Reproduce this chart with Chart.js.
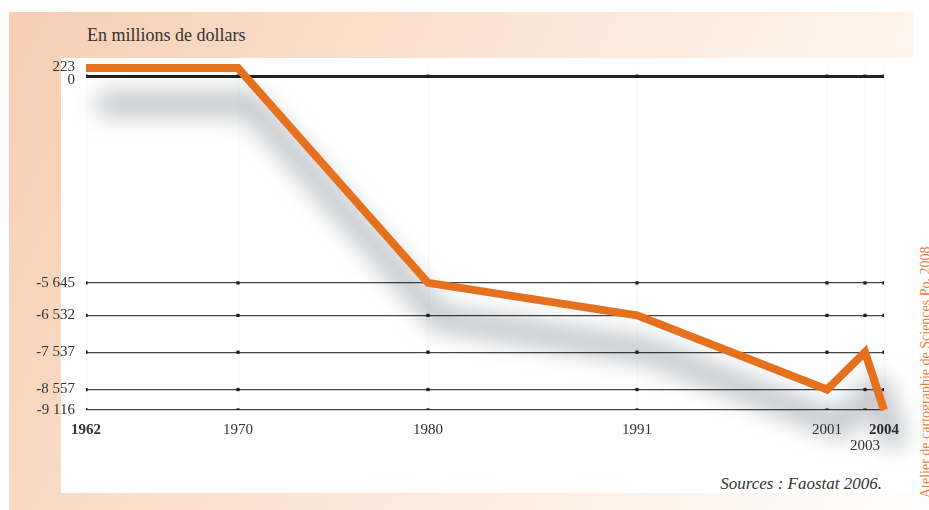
<!DOCTYPE html>
<html lang="fr">
<head>
  <meta charset="UTF-8" />
  <title>En millions de dollars</title>
  <script src="https://cdn.jsdelivr.net/npm/chart.js"></script>
  <style>
    body {
      margin: 0;
      width: 929px;
      height: 510px;
      position: relative;
      overflow: hidden;
      background: #fff;
      font-family: 'Liberation Serif', 'DejaVu Serif', serif;
      color: #333;
    }
    .frame {
      position: absolute;
      left: 9px;
      top: 12px;
      width: 904px;
      height: 498px;
      background: linear-gradient(115deg, #f6ceb1 0%, #fbe3d2 40%, #fdf2e9 75%, #fffdfb 100%);
    }
    .plot-bg {
      position: absolute;
      left: 61px;
      top: 58px;
      right: 0;
      height: 435px;
      background: #fff;
    }
    .title {
      position: absolute;
      left: 87px;
      top: 25px;
      font-size: 18px;
      white-space: nowrap;
    }
    .source {
      position: absolute;
      right: 47px;
      top: 474px;
      font-size: 17px;
      font-style: italic;
      white-space: nowrap;
    }
    .credit {
      position: absolute;
      left: 918px;
      top: 498px;
      font-size: 14px;
      color: #e8813f;
      white-space: nowrap;
      transform: rotate(-90deg);
      transform-origin: 0 0;
    }
    #chart {
      position: absolute;
      left: 0;
      top: 0;
    }
  </style>
</head>
<body>
  <div class="frame"></div>
  <div class="plot-bg"></div>
  <div class="title">En millions de dollars</div>
  <div class="source">Sources : Faostat 2006.</div>
  <div class="credit">Atelier de cartographie de Sciences Po, 2008</div>
  <canvas id="chart" width="929" height="510"></canvas>

  <script>
    // balance per year, millions of dollars
    const years = [1962, 1970, 1980, 1991, 2001, 2003, 2004];
    const balance = [223, 223, -5645, -6532, -8557, -7537, -9116];

    const yTicks = [223, 0, -5645, -6532, -7537, -8557, -9116];
    const boldYears = [1962, 2004];
    const lowYears = [2003];

    const serif = "'Liberation Serif', 'DejaVu Serif', serif";

    function frNumber(v) {
      const s = String(Math.abs(v)).replace(/\B(?=(\d{3})+(?!\d))/g, ' ');
      return (v < 0 ? '-' : '') + s;
    }

    const linePoints = years.map((y, i) => ({ x: y, y: balance[i] }));

    // little square marks where each year crosses a grid line
    const gridMarks = [];
    yTicks.filter(v => v !== 223).forEach(v => {
      years.forEach(y => gridMarks.push({ x: y, y: v }));
    });

    // blurred grey copy of the line, offset down-right
    const softShadow = {
      id: 'softShadow',
      beforeDatasetDraw(chart, args) {
        if (!chart.data.datasets[args.index].isShadow) return;
        const ctx = chart.ctx;
        ctx.save();
        ctx.filter = 'blur(11px)';
        ctx.globalCompositeOperation = 'multiply';
        ctx.translate(12, 36);
      },
      afterDatasetDraw(chart, args) {
        if (chart.data.datasets[args.index].isShadow) chart.ctx.restore();
      }
    };

    new Chart(document.getElementById('chart'), {
      type: 'line',
      data: {
        datasets: [
          {
            data: linePoints,
            borderColor: '#e5711f',
            borderWidth: 8,
            borderJoinStyle: 'miter',
            pointRadius: 0,
            tension: 0,
            clip: false,
            order: 0
          },
          {
            data: gridMarks,
            showLine: false,
            pointStyle: 'rect',
            pointRadius: 2.3,
            pointBackgroundColor: '#1e1e1e',
            pointBorderWidth: 0,
            order: 1
          },
          {
            isShadow: true,
            data: linePoints,
            borderColor: '#c4c7cb',
            borderWidth: 26,
            borderJoinStyle: 'round',
            pointRadius: 0,
            tension: 0,
            clip: false,
            order: 2
          }
        ]
      },
      options: {
        responsive: false,
        animation: false,
        layout: { padding: { left: 0, right: 45, top: 68, bottom: 60 } },
        plugins: {
          legend: { display: false },
          tooltip: { enabled: false }
        },
        scales: {
          x: {
            type: 'linear',
            min: 1962,
            max: 2004,
            afterBuildTicks: s => { s.ticks = years.map(v => ({ value: v })); },
            afterFit: s => { s.height = 40; },
            border: { display: false },
            grid: { drawTicks: false, color: 'rgba(0,0,0,0.03)', lineWidth: 1 },
            ticks: {
              autoSkip: false,
              maxRotation: 0,
              padding: 12,
              color: '#333',
              font: c => ({
                family: serif,
                size: 15,
                lineHeight: 16 / 15,
                weight: c.tick && boldYears.includes(c.tick.value) ? 'bold' : 'normal'
              }),
              callback: v => lowYears.includes(v) ? ['', String(v)] : String(v)
            }
          },
          y: {
            min: -9116,
            max: 223,
            afterBuildTicks: s => { s.ticks = yTicks.map(v => ({ value: v })); },
            afterFit: s => { s.width = 86; },
            border: { display: false },
            grid: {
              drawTicks: false,
              color: c => {
                if (!c.tick) return '#444';
                if (c.tick.value === 223) return 'rgba(0,0,0,0)';
                return c.tick.value === 0 ? '#222' : '#444';
              },
              lineWidth: c => (c.tick && c.tick.value === 0 ? 3 : 1.3)
            },
            ticks: {
              autoSkip: false,
              padding: 11,
              color: '#333',
              font: c => {
                let lh = 1.2;
                if (c.tick && c.tick.value === 223) lh = 2 / 15;
                if (c.tick && c.tick.value === 0) lh = 8 / 15;
                return { family: serif, size: 15, lineHeight: lh };
              },
              callback: v => {
                if (v === 223) return ['223', ''];
                if (v === 0) return ['', '0'];
                return frNumber(v);
              }
            }
          }
        }
      },
      plugins: [softShadow]
    });
  </script>
</body>
</html>
